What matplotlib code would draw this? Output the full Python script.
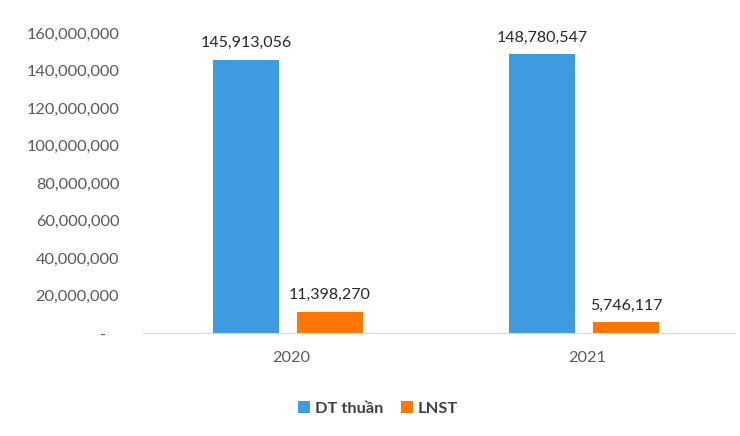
import numpy as np
import matplotlib.pyplot as plt
from matplotlib.ticker import FuncFormatter

years = ['2020', '2021']
dt_thuan = [145913056, 148780547]
lnst = [11398270, 5746117]

plt.rcParams['font.family'] = ['Lato', 'DejaVu Sans']

def fmt(v, pos=None):
    if v == 0:
        return '-   '
    return f'{v:,.0f}'

fig = plt.figure(figsize=(7.4, 4.36), dpi=100)
ax = fig.add_axes([0.193, 0.236, 0.8, 0.688])

x = np.arange(len(years))
w = 0.223
b1 = ax.bar(x - 0.151, dt_thuan, w, color='#3E9BE0', label='DT thuần')
b2 = ax.bar(x + 0.132, lnst, w, color='#FF7700', label='LNST')

for bars in (b1, b2):
    for r in bars:
        ax.annotate(fmt(r.get_height()), (r.get_x() + r.get_width() / 2, r.get_height()),
                    xytext=(0, 7), textcoords='offset points', ha='center', va='bottom',
                    fontsize=11.5, color='#262626')

ax.set_xlim(-0.5, 1.5)
ax.set_ylim(0, 160000000)
ax.set_yticks(np.arange(0, 160000001, 20000000))
ax.yaxis.set_major_formatter(FuncFormatter(fmt))
ax.set_xticks(x)
ax.set_xticklabels(years)
ax.tick_params(axis='both', length=0, labelsize=11.8, labelcolor='#595959')
ax.tick_params(axis='y', pad=17)
ax.tick_params(axis='x', pad=13)
for s in ['top', 'right', 'left']:
    ax.spines[s].set_visible(False)
ax.spines['bottom'].set_color('#D9D9D9')

leg = fig.legend(loc='center', bbox_to_anchor=(0.511, 0.063), ncol=2, frameon=False,
                 handlelength=0.7, handleheight=0.7, handletextpad=0.3, columnspacing=1.1,
                 prop={'size': 11.8, 'weight': 'bold'})
for t in leg.get_texts():
    t.set_color('#404040')

fig.savefig('out.png', dpi=100)
